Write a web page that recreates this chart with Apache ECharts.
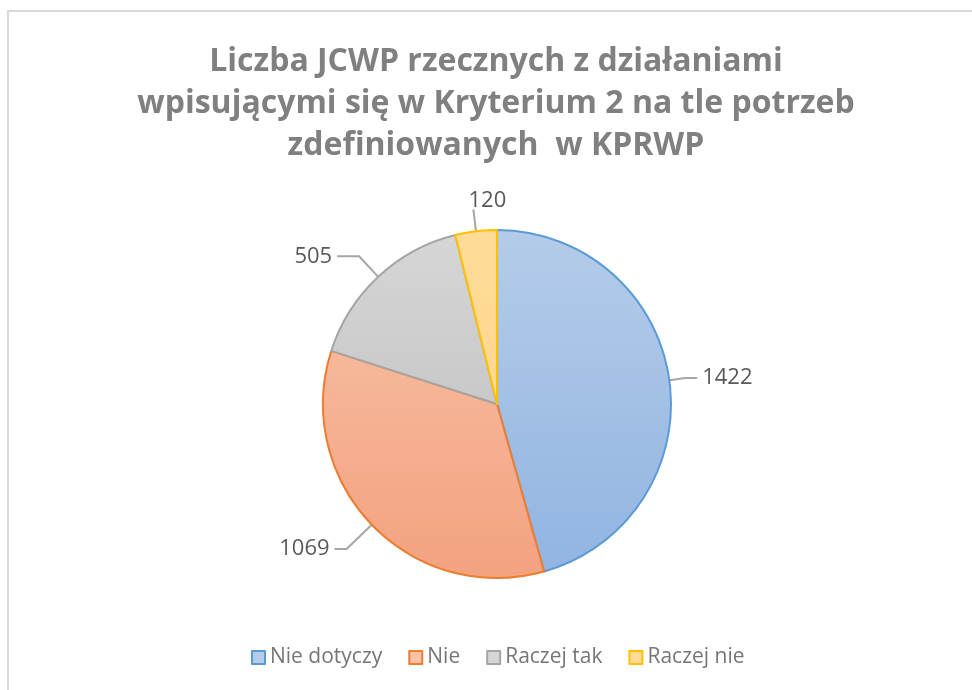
<!DOCTYPE html>
<html>
<head>
<meta charset="utf-8">
<style>
  html, body { margin: 0; padding: 0; background: #ffffff; }
  #chart { width: 972px; height: 690px; }
</style>
<script src="https://cdn.jsdelivr.net/npm/echarts@6/dist/echarts.min.js"></script>
</head>
<body>
<div id="chart"></div>
<script>
// Categories and counts of river water bodies
const categories = ['Nie dotyczy', 'Nie', 'Raczej tak', 'Raczej nie'];
const counts = [1422, 1069, 505, 120];

// Slice styling: fill gradient (top, bottom) and outline colour per category
const fillTop = ['#b4cce9', '#f8c3a9', '#d6d6d6', '#ffdb98'];
const fillBottom = ['#91b4e1', '#f3a27f', '#bbbbbb', '#ffd68a'];
const outline = ['#5b9bd5', '#ed7d31', '#a5a5a5', '#ffc000'];
// Leader line lengths (radial part, horizontal part) per category
const leadLen = [16, 35, 28, 22];
const leadLen2 = [12, 12, 22, 0];

const titleText = 'Liczba JCWP rzecznych z działaniami\nwpisującymi się w Kryterium 2 na tle potrzeb\nzdefiniowanych  w KPRWP';

const chart = echarts.init(document.getElementById('chart'));

const cx = 497, cy = 404, r = 174;

function sliceFill(i) {
  return new echarts.graphic.LinearGradient(0, cy - r, 0, cy + r, [
    { offset: 0, color: fillTop[i] },
    { offset: 1, color: fillBottom[i] }
  ], true);
}

const pieData = categories.map((name, i) => ({
  name: name,
  value: counts[i],
  itemStyle: { color: sliceFill(i), borderColor: outline[i], borderWidth: 2 },
  labelLine: { length: leadLen[i], length2: leadLen2[i] }
}));

chart.setOption({
  animation: false,
  backgroundColor: '#ffffff',
  graphic: [{
    type: 'rect',
    shape: { x: 8, y: 11, width: 1200, height: 1200 },
    style: { fill: 'none', stroke: '#d9d9d9', lineWidth: 2 },
    silent: true
  }],
  title: {
    text: titleText,
    left: cx - 1,
    textAlign: 'center',
    top: 41,
    padding: 0,
    textStyle: {
      fontFamily: 'Open Sans',
      fontWeight: 'bold',
      fontSize: 32,
      lineHeight: 42,
      color: '#808080'
    }
  },
  legend: {
    bottom: 17,
    left: 246,
    itemWidth: 13,
    itemHeight: 13,
    itemGap: 26,
    icon: 'rect',
    textStyle: { fontFamily: 'Open Sans', fontSize: 21, color: '#767676' },
    data: categories.map((name, i) => ({
      name: name,
      itemStyle: { color: fillTop[i], borderColor: outline[i], borderWidth: 2 }
    }))
  },
  series: [{
    type: 'pie',
    center: [cx, cy],
    radius: r,
    startAngle: 90,
    clockwise: true,
    data: pieData,
    label: {
      show: true,
      position: 'outside',
      formatter: '{c}',
      fontFamily: 'Open Sans',
      fontSize: 22,
      color: '#595959'
    },
    labelLine: {
      show: true,
      lineStyle: { color: '#a6a6a6', width: 2 }
    },
    // The smallest slice carries its value centred above the end of its leader line
    labelLayout: function (params) {
      if (params.dataIndex !== 3 || !params.labelLinePoints) return {};
      const p0 = params.labelLinePoints[0];
      const p1 = params.labelLinePoints[1];
      return {
        x: p1[0] + 14,
        y: p1[1] + 2,
        align: 'center',
        verticalAlign: 'bottom',
        labelLinePoints: [p0, p1, p1]
      };
    }
  }]
});
</script>
</body>
</html>
